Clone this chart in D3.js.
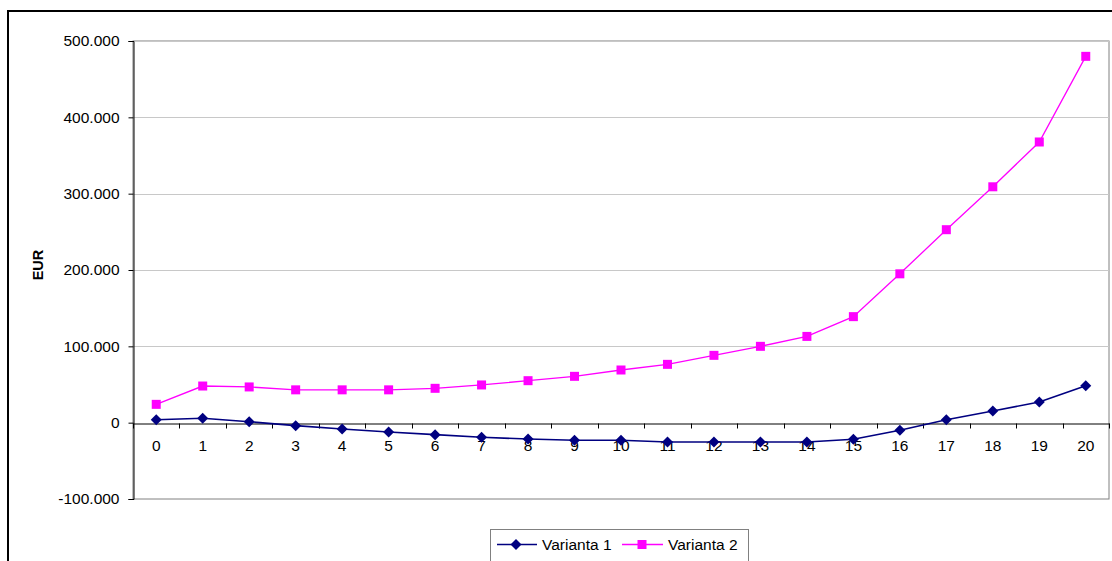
<!DOCTYPE html>
<html>
<head>
<meta charset="utf-8">
<script src="https://cdn.jsdelivr.net/npm/d3@7"></script>
<style>
  html, body { margin: 0; padding: 0; background: #fff; }
  svg { display: block; font-family: "Liberation Sans", Arial, sans-serif; }
</style>
</head>
<body>
<svg id="chart" width="1112" height="561"></svg>
<script>
const categories = ["0","1","2","3","4","5","6","7","8","9","10","11","12","13","14","15","16","17","18","19","20"];
const seriesNames = ["Varianta 1", "Varianta 2"];
const varianta1 = [3900, 5700, 1300, -3900, -8300, -12200, -15700, -19200, -21400, -23100, -23100, -25300, -25300, -25300, -25300, -21800, -10000, 3900, 15300, 27100, 48500];
const varianta2 = [24000, 48000, 46800, 43000, 43000, 43000, 45000, 49400, 55000, 60700, 69000, 76400, 88200, 100000, 113000, 138900, 195000, 252800, 309000, 367700, 479900];
const yTicks = [-100000, 0, 100000, 200000, 300000, 400000, 500000];
const yTickLabels = ["-100.000", "0", "100.000", "200.000", "300.000", "400.000", "500.000"];
const yTitle = "EUR";
const colors = ["#000080", "#FF00FF"];

const FS = 15.5;
const svg = d3.select("#chart");
const plot = { left: 133, top: 41, right: 1109, bottom: 499 };

// outer chart frame
svg.append("rect").attr("x", 8).attr("y", 11).attr("width", 1112).attr("height", 600)
  .attr("fill", "none").attr("stroke", "#000").attr("stroke-width", 2);

const x = d3.scaleBand().domain(categories).range([plot.left, plot.right]);
const y = d3.scaleLinear().domain([-100000, 500000]).range([plot.bottom, plot.top]);

// plot area border
svg.append("rect").attr("x", plot.left).attr("y", plot.top)
  .attr("width", plot.right - plot.left).attr("height", plot.bottom - plot.top)
  .attr("fill", "none").attr("stroke", "#808080").attr("stroke-width", 1);

// gridlines
svg.append("g").selectAll("line").data(yTicks.filter(v => v !== 0 && v !== -100000))
  .join("line")
  .attr("x1", plot.left).attr("x2", plot.right)
  .attr("y1", d => Math.round(y(d)) + 0.5).attr("y2", d => Math.round(y(d)) + 0.5)
  .attr("stroke", "#c8c8c8").attr("stroke-width", 1);

// y axis
const yAxis = d3.axisLeft(y).tickValues(yTicks).tickSize(5).tickPadding(9)
  .tickFormat((d, i) => yTickLabels[i]);
const gy = svg.append("g").attr("transform", `translate(${plot.left + 0.5},0)`).call(yAxis);
gy.attr("font-size", null).attr("font-family", null);
gy.select(".domain").attr("stroke", "#000");
gy.selectAll(".tick line").attr("stroke", "#000");
gy.selectAll(".tick text").style("font-size", FS + "px").attr("fill", "#000");

// x axis at zero
const xAxis = d3.axisBottom(x).tickSize(0).tickPadding(16.5);
const gx = svg.append("g").attr("transform", `translate(0,${Math.round(y(0)) + 0.5})`).call(xAxis);
gx.attr("font-size", null).attr("font-family", null);
gx.select(".domain").attr("stroke", "#000");
gx.selectAll(".tick text").style("font-size", FS + "px").attr("fill", "#000");
// category boundary tick marks
const bounds = categories.map(c => x(c)).concat([x(categories[categories.length - 1]) + x.bandwidth()]);
gx.append("g").selectAll("line").data(bounds).join("line")
  .attr("x1", d => Math.round(d) + 0.5).attr("x2", d => Math.round(d) + 0.5)
  .attr("y1", 0).attr("y2", 5).attr("stroke", "#000");

// y title
svg.append("text").attr("transform", "translate(43,265) rotate(-90)")
  .attr("text-anchor", "middle").style("font-size", "14.5px").attr("font-weight", "bold")
  .attr("fill", "#000").text(yTitle);

const cx = d => x(d) + x.bandwidth() / 2;
const line = d3.line().x((d, i) => cx(categories[i])).y(d => y(d));

// series 2 (magenta, squares)
svg.append("path").datum(varianta2).attr("d", line)
  .attr("fill", "none").attr("stroke", colors[1]).attr("stroke-width", 1.3);
svg.append("g").selectAll("rect").data(varianta2).join("rect")
  .attr("x", (d, i) => cx(categories[i]) - 4.5).attr("y", d => y(d) - 4.5)
  .attr("width", 9).attr("height", 9).attr("fill", colors[1]);

// series 1 (navy, diamonds)
svg.append("path").datum(varianta1).attr("d", line)
  .attr("fill", "none").attr("stroke", colors[0]).attr("stroke-width", 1.6);
const diamond = "M0,-5.5L5.5,0L0,5.5L-5.5,0Z";
svg.append("g").selectAll("path").data(varianta1).join("path")
  .attr("d", diamond)
  .attr("transform", (d, i) => `translate(${cx(categories[i])},${y(d)})`)
  .attr("fill", colors[0]);

// legend
const lg = svg.append("g");
lg.append("rect").attr("x", 490.5).attr("y", 529.5).attr("width", 258).attr("height", 40)
  .attr("fill", "#fff").attr("stroke", "#808080");
const legendItems = [
  { name: seriesNames[0], color: colors[0], x0: 497, x1: 537, mx: 516, tx: 542, shape: "diamond" },
  { name: seriesNames[1], color: colors[1], x0: 622, x1: 663, mx: 642, tx: 668, shape: "square" }
];
const ly = 544.5;
legendItems.forEach(it => {
  lg.append("line").attr("x1", it.x0).attr("x2", it.x1).attr("y1", ly).attr("y2", ly)
    .attr("stroke", it.color).attr("stroke-width", it.shape === "diamond" ? 1.6 : 1.3);
  if (it.shape === "diamond") {
    lg.append("path").attr("d", diamond).attr("transform", `translate(${it.mx},${ly})`).attr("fill", it.color);
  } else {
    lg.append("rect").attr("x", it.mx - 4.5).attr("y", ly - 4.5).attr("width", 9).attr("height", 9).attr("fill", it.color);
  }
  lg.append("text").attr("x", it.tx).attr("y", ly).attr("dy", "0.35em")
    .style("font-size", FS + "px").attr("fill", "#000").text(it.name);
});
</script>
</body>
</html>
